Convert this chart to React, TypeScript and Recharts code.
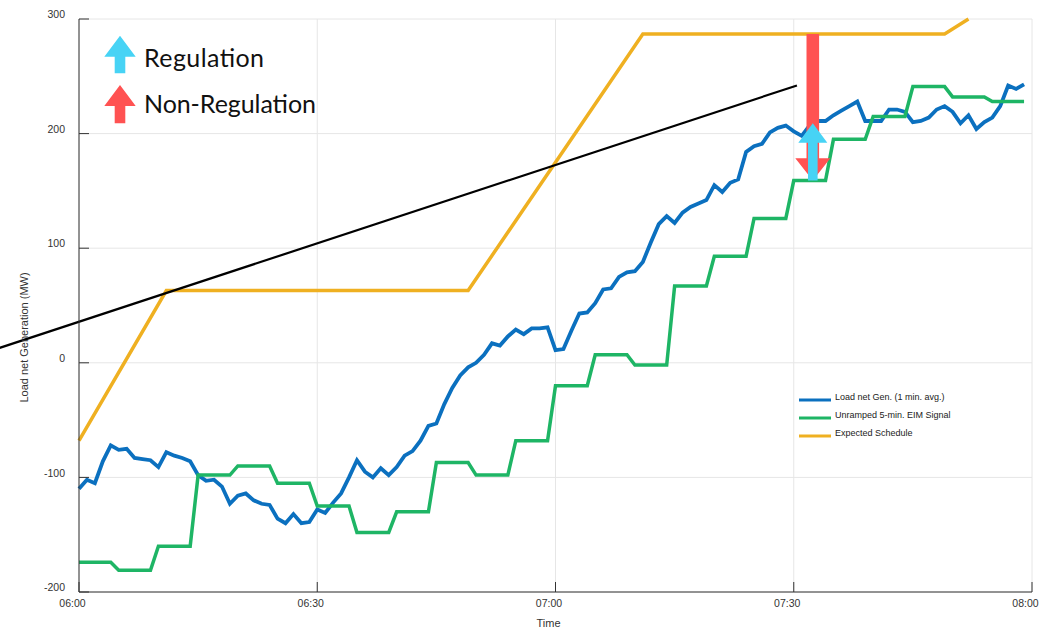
import React from 'react';
import {
  LineChart,
  Line,
  XAxis,
  YAxis,
  CartesianGrid,
  ReferenceLine,
  Legend
} from 'recharts';

// minutes after 06:00, one sample per minute
const minutes = Array.from({ length: 120 }, (_, i) => i);

// Load net Gen. (1 min. avg.), MW
const loadNetGen = [
  -110, -102, -105, -86, -72, -76, -75, -83, -84, -85,
  -91, -78, -81, -83, -86, -98, -103, -102, -108, -123,
  -116, -114, -120, -123, -124, -136, -140, -132, -140, -139,
  -128, -131, -122, -114, -100, -85, -95, -100, -92, -98,
  -91, -81, -77, -68, -55, -53, -36, -22, -11, -4,
  0, 7, 17, 15, 23, 29, 25, 30, 30, 31,
  11, 12, 28, 43, 44, 52, 64, 65, 75, 79,
  80, 88, 105, 121, 128, 122, 131, 136, 139, 142,
  155, 149, 157, 160, 184, 189, 191, 201, 205, 207,
  202, 198, 207, 211, 211, 216, 220, 224, 228, 211,
  211, 211, 221, 221, 219, 210, 211, 214, 221, 224,
  219, 209, 216, 204, 210, 214, 224, 242, 239, 243
];

// Unramped 5-min. EIM signal, one level per 5-minute interval
const eimLevels = [
  -174, -181, -160, -98, -90, -105, -125, -148, -130, -87, -98, -68,
  -20, 7, -2, 67, 93, 126, 159, 195, 215, 241, 232, 228
];

// Expected schedule breakpoints
const scheduleMinutes = [0, 11, 49, 71, 109, 112];
const scheduleValues = [-68, 63, 63, 287, 287, 300];

// black trend line
const trendStart = { x: -10, y: 13 };
const trendEnd = { x: 90.4, y: 242 };

// annotation arrows at 07:32
const arrowMinute = 92.4;
const nonRegulation = [287, 159];
const regulation = [159, 209];

const xTicks = [0, 30, 60, 90, 120];
const xTickLabels = ['06:00', '06:30', '07:00', '07:30', '08:00'];
const yTicks = [-200, -100, 0, 100, 200, 300];

const legendOrder = ['Load net Gen. (1 min. avg.)', 'Unramped 5-min. EIM Signal', 'Expected Schedule'];

const BLUE = '#0b70bf';
const GREEN = '#1eb565';
const YELLOW = '#efb021';
const RED = '#ff5252';
const CYAN = '#47d3f5';
const FONT = '"Liberation Sans", Arial, sans-serif';

const data = minutes.map((m, i) => ({
  m,
  load: loadNetGen[i],
  eim: eimLevels[Math.floor(m / 5)]
}));

const scheduleData = scheduleMinutes.map((m, i) => ({ m, sched: scheduleValues[i] }));

const arrowPoints = (x: number, y1: number, y2: number, shaftHalf: number, headHalf: number, headLen: number) => {
  const dir = y2 < y1 ? -1 : 1;
  const baseY = y2 - dir * headLen;
  return [
    [x - shaftHalf, y1],
    [x + shaftHalf, y1],
    [x + shaftHalf, baseY],
    [x + headHalf, baseY],
    [x, y2],
    [x - headHalf, baseY],
    [x - shaftHalf, baseY]
  ].map(p => p.join(',')).join(' ');
};

const makeArrow = (color: string, shaftHalf: number, headHalf: number, headLen: number) =>
  (props: any) => (
    <polygon
      points={arrowPoints(props.x1, props.y1, props.y2, shaftHalf, headHalf, headLen)}
      fill={color}
    />
  );

const XTick = ({ x, y, payload }: any) => (
  <text x={x - 6.5} y={y + 14.5} textAnchor="middle" fontSize={10.5} fill="#333" fontFamily={FONT}>
    {xTickLabels[xTicks.indexOf(payload.value)]}
  </text>
);

const YTick = ({ x, y, payload }: any) => (
  <text x={x - 14} y={y - 0.75} textAnchor="end" fontSize={10.5} fill="#333" fontFamily={FONT}>
    {payload.value}
  </text>
);

const renderLegend = (props: any) => {
  const items = [...(props.payload || [])].sort(
    (a: any, b: any) => legendOrder.indexOf(a.value) - legendOrder.indexOf(b.value)
  );
  return (
    <svg width={170} height={60} style={{ display: 'block' }}>
      {items.map((item: any, i: number) => (
        <g key={item.value}>
          <line x1={0} x2={32} y1={15 + i * 18} y2={15 + i * 18} stroke={item.color} strokeWidth={3} />
          <text x={36} y={15 + i * 18} fontSize={9} fill="#222" fontFamily={FONT}>
            {item.value}
          </text>
        </g>
      ))}
    </svg>
  );
};

export default function App() {
  return (
    <div style={{ position: 'fixed', left: 0, top: 0, width: 1046, height: 629, background: '#fff', fontFamily: FONT }}>
      <LineChart
        width={1046}
        height={629}
        data={data}
        margin={{ top: 19, right: 14, bottom: 0, left: 0 }}
      >
        <CartesianGrid stroke="#e6e6e6" strokeWidth={1} />
        <XAxis
          dataKey="m"
          type="number"
          domain={[0, 120]}
          ticks={xTicks}
          interval={0}
          height={37}
          stroke="#333"
          tickSize={-10}
          tickMargin={10}
          tick={<XTick />}
          label={(p: any) => (
            <text
              x={p.viewBox.x + p.viewBox.width / 2 - 7}
              y={p.viewBox.y + 35}
              textAnchor="middle"
              fontSize={11}
              fill="#333"
              fontFamily={FONT}
            >
              Time
            </text>
          )}
        />
        <YAxis
          type="number"
          domain={[-200, 300]}
          ticks={yTicks}
          interval={0}
          width={79}
          stroke="#333"
          tickSize={-10}
          tickMargin={10}
          tick={<YTick />}
          label={(p: any) => {
            const cx = p.viewBox.x + p.viewBox.width - 55;
            const cy = p.viewBox.y + p.viewBox.height / 2 + 32;
            return (
              <text
                x={cx}
                y={cy}
                transform={`rotate(-90 ${cx} ${cy})`}
                textAnchor="middle"
                dominantBaseline="central"
                fontSize={11}
                fill="#333"
                fontFamily={FONT}
              >
                Load net Generation (MW)
              </text>
            );
          }}
        />
        <Line
          name="Load net Gen. (1 min. avg.)"
          dataKey="load"
          type="linear"
          stroke={BLUE}
          strokeWidth={3.8}
          dot={false}
          isAnimationActive={false}
        />
        <Line
          name="Unramped 5-min. EIM Signal"
          dataKey="eim"
          type="linear"
          stroke={GREEN}
          strokeWidth={3.5}
          dot={false}
          isAnimationActive={false}
        />
        <Line
          name="Expected Schedule"
          data={scheduleData}
          dataKey="sched"
          type="linear"
          stroke={YELLOW}
          strokeWidth={3.5}
          dot={false}
          isAnimationActive={false}
        />
        <ReferenceLine
          segment={[trendStart, trendEnd]}
          ifOverflow="visible"
          stroke="#000"
          strokeWidth={2.2}
        />
        <ReferenceLine
          segment={[{ x: arrowMinute, y: nonRegulation[0] }, { x: arrowMinute, y: nonRegulation[1] }]}
          ifOverflow="visible"
          shape={makeArrow(RED, 6.3, 17.5, 22.3)}
        />
        <ReferenceLine
          segment={[{ x: arrowMinute, y: regulation[0] }, { x: arrowMinute, y: regulation[1] }]}
          ifOverflow="visible"
          shape={makeArrow(CYAN, 4.8, 14.5, 19.4)}
        />
        <Legend
          layout="vertical"
          align="center"
          verticalAlign="middle"
          content={renderLegend}
          wrapperStyle={{ left: 799, top: 385, width: 170, height: 60 }}
        />
      </LineChart>

      {/* arrow key in the top-left corner */}
      <svg
        width={340}
        height={140}
        style={{ position: 'absolute', left: 0, top: 0, pointerEvents: 'none' }}
      >
        <polygon points={arrowPoints(120, 73.3, 35.7, 5.3, 15.7, 21)} fill={CYAN} />
        <polygon points={arrowPoints(120, 123.3, 85, 5.3, 15.7, 21)} fill={RED} />
        <text x={144} y={66.7} fontSize={25} fill="#111" fontFamily="Lato, 'Open Sans', sans-serif" textLength={120}>
          Regulation
        </text>
        <text x={144} y={112.7} fontSize={25} fill="#111" fontFamily="Lato, 'Open Sans', sans-serif" textLength={172}>
          Non-Regulation
        </text>
      </svg>
    </div>
  );
}
